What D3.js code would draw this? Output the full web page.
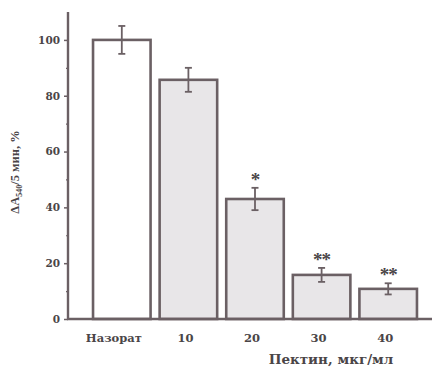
<!DOCTYPE html>
<html>
<head>
<meta charset="utf-8">
<script src="https://cdn.jsdelivr.net/npm/d3@7"></script>
<style>
  body { margin: 0; background: #fff; }
  text { font-family: "DejaVu Serif", "Liberation Serif", serif; font-weight: bold; fill: #4a4547; }
</style>
</head>
<body>
<svg width="432" height="369"></svg>
<script>
var categories = ["Назорат", "10", "20", "30", "40"];
var values = [100, 85.7, 43, 15.8, 10.8];
var errors = [5, 4.3, 4, 2.5, 2];
var marks = ["", "", "*", "**", "**"];
var yTicks = [0, 20, 40, 60, 80, 100];
var yMinor = [10, 30, 50, 70, 90];

var svg = d3.select("svg");
var ink = "#6b6064";

var y = d3.scaleLinear().domain([0, 110]).range([319, 12]);
var x = d3.scaleBand().domain(categories).range([88.5, 421.5])
    .paddingInner(0.136).paddingOuter(0.068);

// bars
svg.selectAll("rect.bar")
    .data(values)
    .enter()
    .append("rect")
    .attr("class", "bar")
    .attr("x", function(d, i) { return x(categories[i]); })
    .attr("y", function(d) { return y(d); })
    .attr("width", x.bandwidth())
    .attr("height", function(d) { return y(0) - y(d); })
    .style("fill", function(d, i) { return i == 0 ? "#ffffff" : "#e8e6e8"; })
    .style("stroke", ink)
    .style("stroke-width", 2.6);

// error bars
var eb = svg.selectAll("g.err")
    .data(values)
    .enter()
    .append("g")
    .attr("class", "err")
    .attr("transform", function(d, i) { return "translate(" + (x(categories[i]) + x.bandwidth() / 2) + ",0)"; });
eb.append("line")
    .attr("y1", function(d, i) { return y(d + errors[i]); })
    .attr("y2", function(d, i) { return y(d - errors[i]); })
    .style("stroke", ink).style("stroke-width", 1.8);
eb.append("line")
    .attr("x1", -3.5).attr("x2", 3.5)
    .attr("y1", function(d, i) { return y(d + errors[i]); })
    .attr("y2", function(d, i) { return y(d + errors[i]); })
    .style("stroke", ink).style("stroke-width", 1.8);
eb.append("line")
    .attr("x1", -3.5).attr("x2", 3.5)
    .attr("y1", function(d, i) { return y(d - errors[i]); })
    .attr("y2", function(d, i) { return y(d - errors[i]); })
    .style("stroke", ink).style("stroke-width", 1.8);
eb.append("text")
    .attr("y", function(d, i) { return y(d + errors[i]) + 7; })
    .attr("dy", -9)
    .attr("text-anchor", "middle")
    .style("font-family", "'Liberation Serif', serif")
    .style("font-size", "19px")
    .style("letter-spacing", "-1px")
    .text(function(d, i) { return marks[i]; });

// axes
var yAxis = d3.axisLeft(y).tickValues(yTicks).tickSize(4).tickPadding(4);
var gy = svg.append("g").attr("transform", "translate(68,0)").call(yAxis);
gy.select(".domain").remove();
gy.selectAll("line").style("stroke", ink).style("stroke-width", 1.5);
gy.selectAll("text").style("font-size", "10.5px").style("font-family", "'DejaVu Serif', serif").attr("fill", "#4a4547");

var gm = svg.append("g").attr("transform", "translate(68,0)")
    .call(d3.axisLeft(y).tickValues(yMinor).tickSize(2).tickFormat(""));
gm.select(".domain").remove();
gm.selectAll("line").style("stroke", ink).style("stroke-width", 1.2);

svg.append("line")
    .attr("x1", 68).attr("x2", 68).attr("y1", y(110)).attr("y2", y(0) + 1)
    .style("stroke", ink).style("stroke-width", 2.4);
svg.append("line")
    .attr("x1", 67).attr("x2", 432).attr("y1", y(0)).attr("y2", y(0))
    .style("stroke", ink).style("stroke-width", 2.4);

// category labels
svg.selectAll("text.cat")
    .data(categories)
    .enter()
    .append("text")
    .attr("class", "cat")
    .attr("x", function(d, i) { return x(d) + x.bandwidth() / 2 + (i == 0 ? -8 : -3); })
    .attr("y", 342)
    .attr("text-anchor", "middle")
    .style("font-size", "11.5px")
    .text(function(d) { return d; });

// axis titles
svg.append("text")
    .attr("x", 331).attr("y", 364)
    .attr("text-anchor", "middle")
    .style("font-size", "13.5px")
    .text("Пектин, мкг/мл");

var yt = svg.append("text")
    .attr("transform", "translate(19,172) rotate(-90)")
    .attr("text-anchor", "middle")
    .style("font-family", "'Liberation Serif', serif")
    .style("font-size", "12.5px");
yt.append("tspan").text("ΔA");
yt.append("tspan").attr("dy", 3).style("font-size", "8px").text("540");
yt.append("tspan").attr("dy", -3).text("/5 мин, %");
</script>
</body>
</html>
